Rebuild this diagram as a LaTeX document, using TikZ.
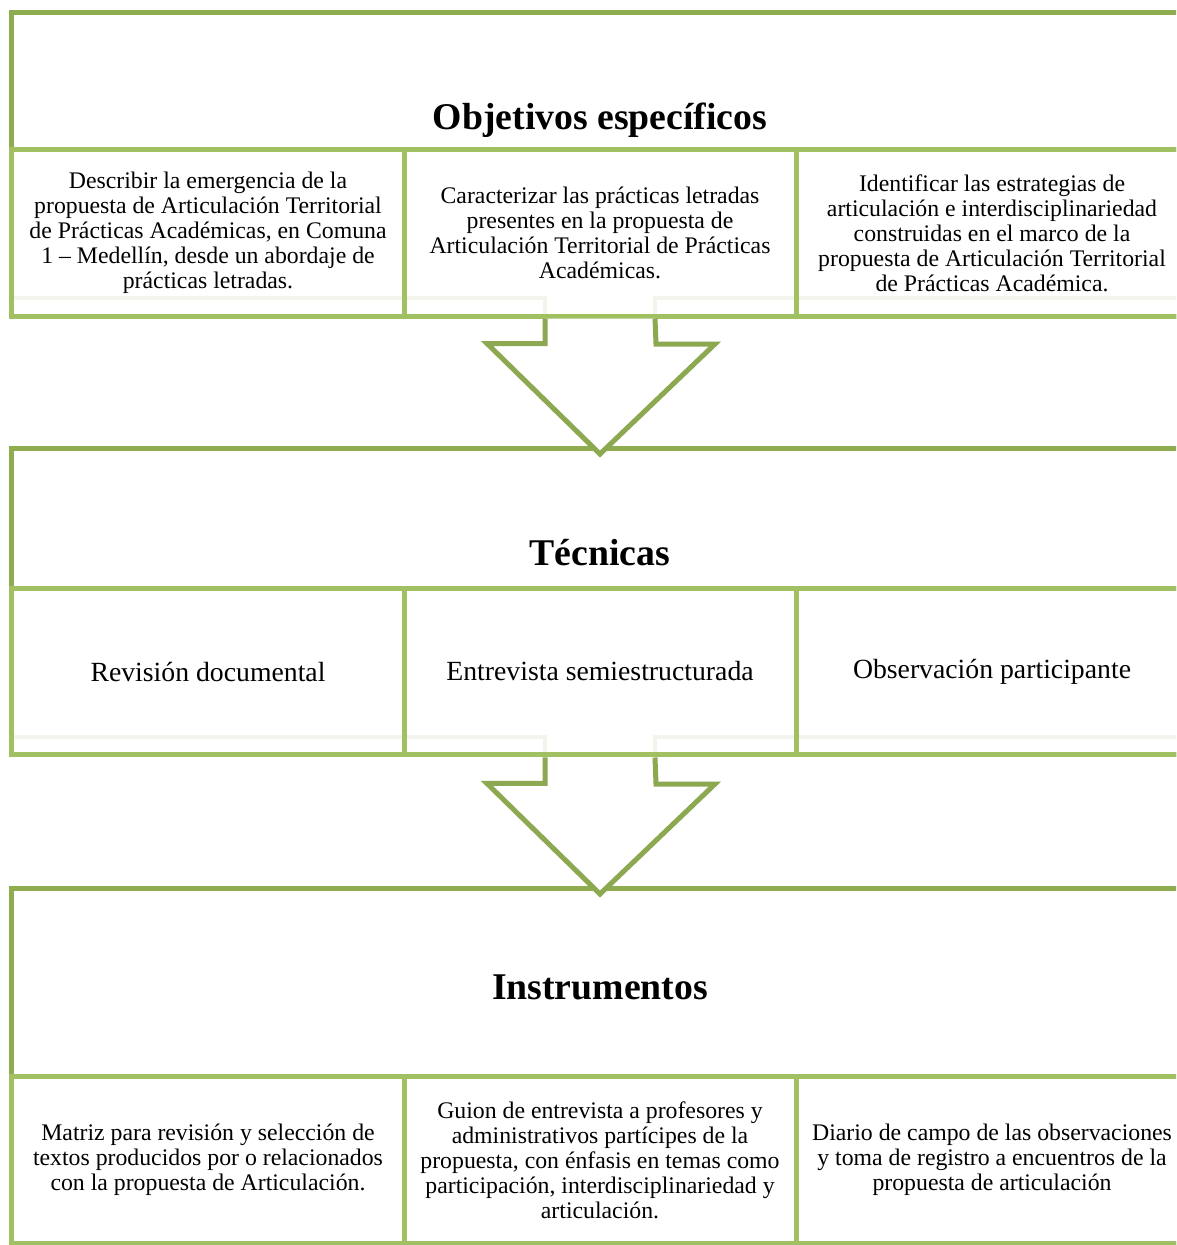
\documentclass[tikz,border=0pt]{standalone}
\usepackage{fontspec}
\setmainfont{Liberation Serif}
\usetikzlibrary{positioning,calc}

\definecolor{panelgreen}{RGB}{143,172,80}
\definecolor{boxgreen}{RGB}{160,192,98}
\definecolor{arrowgreen}{RGB}{140,168,80}
\definecolor{fadegreen}{RGB}{242,245,236}

\begin{document}
\begin{tikzpicture}[
    x=0.53pt, y=-0.53pt,
    panel/.style={rectangle, draw=panelgreen, fill=white, line width=2.65pt, inner sep=0pt, outer sep=0pt, minimum width=623.28pt},
    subbox/.style={rectangle, draw=boxgreen, line width=2.65pt, outer sep=0pt, minimum width=207.76pt, minimum height=88pt, align=center, font=\fontsize{12.6}{13.2}\selectfont},
    tecbox/.style={subbox, font=\fontsize{14.7}{16}\selectfont},
    head/.style={font=\fontsize{20}{24}\selectfont\bfseries},
    faintline/.style={draw=fadegreen, line width=2.4pt},
    blockarrow/.style={draw=arrowgreen, fill=white, line width=2.65pt, line join=miter}
]
\useasboundingbox (0,0) rectangle (1176,1245);
\clip (0,0) rectangle (1176,1245);

% Objetivos
\node[panel, minimum height=160.6pt] (objpanel) at (600,164.5) {};
\node[subbox, above=0pt of objpanel.south] (obj2) {Caracterizar las prácticas letradas\\presentes en la propuesta de\\Articulación Territorial de Prácticas\\Académicas.};
\draw[faintline] ($(obj2.south)+(-588,-18)$) -- ($(obj2.south)+(-55,-18)$) -- ($(obj2.south)+(-55,0)$);
\draw[faintline] ($(obj2.south)+(55,0)$) -- ($(obj2.south)+(55,-18)$) -- ($(obj2.south)+(588,-18)$);
\node[subbox, left=0pt of obj2] (obj1) {Describir la emergencia de la\\propuesta de Articulación Territorial\\de Prácticas Académicas, en Comuna\\1 – Medellín, desde un abordaje de\\prácticas letradas.};
\node[subbox, right=0pt of obj2] (obj3) {Identificar las estrategias de\\articulación e interdisciplinariedad\\construidas en el marco de la\\propuesta de Articulación Territorial\\de Prácticas Académica.};
\draw[boxgreen, line width=2.65pt] (obj1.south west) rectangle (obj3.north east);
\draw[boxgreen, line width=2.65pt] (obj2.south west) -- (obj2.north west) (obj2.south east) -- (obj2.north east);
\node[head] (objtitle) at (600,120) {Objetivos específicos};

% Tecnicas
\node[panel, minimum height=162.7pt] (tecpanel) at (600,601.5) {};
\node[tecbox, minimum height=88.5pt, above=0pt of tecpanel.south] (tec2) {Entrevista semiestructurada};
\draw[faintline] ($(tec2.south)+(-588,-18)$) -- ($(tec2.south)+(-55,-18)$) -- ($(tec2.south)+(-55,0)$);
\draw[faintline] ($(tec2.south)+(55,0)$) -- ($(tec2.south)+(55,-18)$) -- ($(tec2.south)+(588,-18)$);
\node[tecbox, minimum height=88.5pt, left=0pt of tec2] (tec1) {Revisión documental};
\node[tecbox, minimum height=88.5pt, right=0pt of tec2] (tec3) {Observación participante};
\draw[boxgreen, line width=2.65pt] (tec1.south west) rectangle (tec3.north east);
\draw[boxgreen, line width=2.65pt] (tec2.south west) -- (tec2.north west) (tec2.south east) -- (tec2.north east);
\node[head] (tectitle) at (600,553) {Técnicas};

% Instrumentos
\node[panel, minimum height=188.15pt] (inspanel) at (600,1065.5) {};
\node[subbox, above=0pt of inspanel.south] (ins2) {Guion de entrevista a profesores y\\administrativos partícipes de la\\propuesta, con énfasis en temas como\\participación, interdisciplinariedad y\\articulación.};
\node[subbox, left=0pt of ins2] (ins1) {Matriz para revisión y selección de\\textos producidos por o relacionados\\con la propuesta de Articulación.};
\node[subbox, right=0pt of ins2] (ins3) {Diario de campo de las observaciones\\y toma de registro a encuentros de la\\propuesta de articulación};
\node[head] (institle) at (600,987) {Instrumentos};

% Block arrows
\draw[blockarrow] ($(obj2.south)+(-55,2.5)$) |- ++(-58,25) -- ($(tecpanel.north)+(0,6)$) -- ++(115,-110) -- ++(-59,0) -- ($(obj2.south)+(55,2.5)$);
\draw[blockarrow] ($(tec2.south)+(-55,2.5)$) |- ++(-58,26) -- ($(inspanel.north)+(0,6)$) -- ++(115,-110) -- ++(-59,0) -- ($(tec2.south)+(55,2.5)$);

\end{tikzpicture}
\end{document}
